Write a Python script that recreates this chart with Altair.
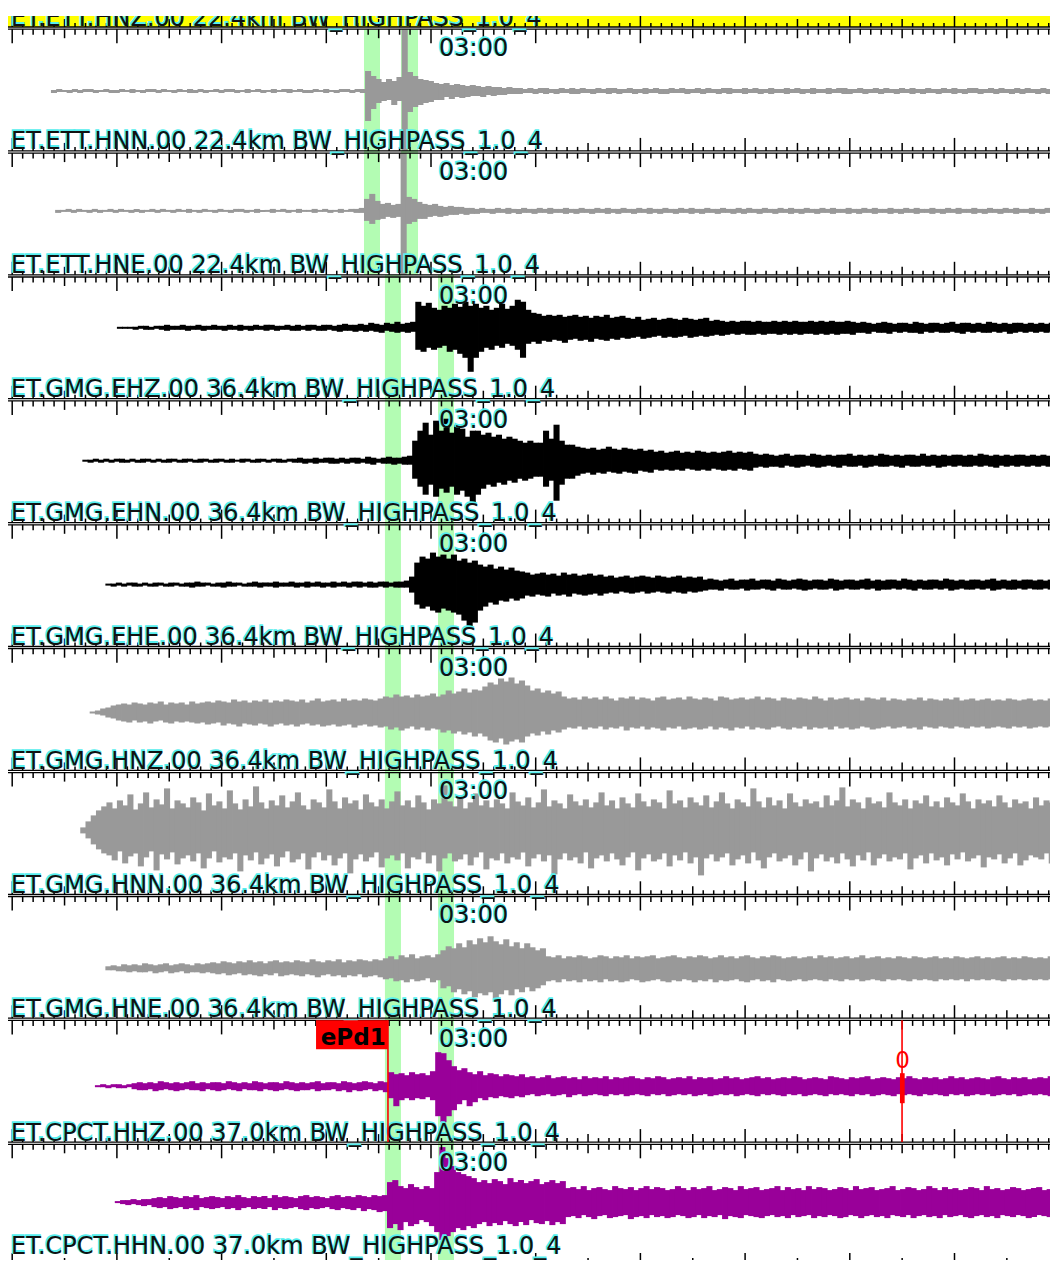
import altair as alt
import pandas as pd

# ---------------- data ----------------
PANEL_LABELS = [
    "ET.ETT.HNZ.00 22.4km BW_HIGHPASS_1.0_4",
    "ET.ETT.HNN.00 22.4km BW_HIGHPASS_1.0_4",
    "ET.ETT.HNE.00 22.4km BW_HIGHPASS_1.0_4",
    "ET.GMG.EHZ.00 36.4km BW_HIGHPASS_1.0_4",
    "ET.GMG.EHN.00 36.4km BW_HIGHPASS_1.0_4",
    "ET.GMG.EHE.00 36.4km BW_HIGHPASS_1.0_4",
    "ET.GMG.HNZ.00 36.4km BW_HIGHPASS_1.0_4",
    "ET.GMG.HNN.00 36.4km BW_HIGHPASS_1.0_4",
    "ET.GMG.HNE.00 36.4km BW_HIGHPASS_1.0_4",
    "ET.CPCT.HHZ.00 37.0km BW_HIGHPASS_1.0_4",
    "ET.CPCT.HHN.00 37.0km BW_HIGHPASS_1.0_4",
]
TIME_LABELS = ["03:00"]
TIME_LABEL_SECONDS = [180]
SAMPLE_STEP = 0.5  # seconds per drawn sample column

TRACE_COLORS = ["#999999", "#999999", "#000000", "#000000", "#000000",
                "#999999", "#999999", "#999999", "#990099", "#990099"]
TRACE_ONSETS = [173.7, 173.6, 178.5, 178.2, 177.9, 174.9, 146.5, 175.4, 175.9, 175.8]

# ET.ETT.HNN
ETT_HNN_PRE_UP = [1,2,1,1,2,1,2,2,1,1,2,1,1,2,1,2,1,1,2,2,
                  1,2,1,1,2,1,2,1,2,1,1,2,1,2,2,1,1,2,1,2,
                  1,1,2,1,2,2,1,2,1,1,2,1,2,1,1,2,2,1,2,2]
ETT_HNN_PRE_DN = [2,1,1,2,1,2,1,1,2,1,1,2,2,1,1,2,1,2,1,1,
                  2,1,1,2,1,1,2,2,1,2,1,1,2,1,1,2,1,2,1,1,
                  2,1,2,1,1,2,1,1,2,2,1,1,2,1,2,1,1,2,1,2]
ETT_HNN_UP = [20,15,12,9,12,10,14,90,19,15,12,11,10,8,7,8,6,7,6,5,
              6,5,4,5,4,4,3,4,3,3,2,3,2,3,3,2,2,3,2,3,
              2,3,2,2,3,2,3,3,2,2,3,2,2,3,2,3,2,2,3,2,
              3,2,2,3,2,3,2,2,3,3,2,2,3,2,3,2,2,3,2,2,
              3,2,3,2,2,3,2,2,3,2,3,3,2,2,3,2,2,3,2,3,
              2,2,3,2,3,2,2,3,2,2,3,2,3,2,2,3,3,2,2,3,
              2,3,2,2,3,2,3,2,2,3,2,2,3,2,3]
ETT_HNN_DN = [30,18,12,10,9,14,10,90,21,16,14,12,11,9,9,6,8,6,7,6,
              5,5,6,4,5,4,4,3,3,3,2,2,3,2,3,2,3,2,2,3,
              3,2,2,3,2,2,3,2,3,2,2,3,2,3,2,2,3,3,2,2,
              2,3,2,2,3,2,2,3,2,3,2,2,3,2,2,3,2,3,2,2,
              3,2,2,3,2,3,2,2,3,2,2,3,3,2,2,3,2,2,3,2,
              2,3,2,2,3,2,3,2,2,3,2,2,3,2,3,2,2,3,2,2,
              3,2,2,3,2,3,2,2,3,2,3,2,2,3,2]

# ET.ETT.HNE
ETT_HNE_PRE_UP = [1,1,2,1,2,1,1,2,1,1,2,1,2,1,1,2,1,1,2,1,
                  2,1,1,2,1,2,1,1,2,1,1,2,1,1,2,2,1,1,2,1,
                  1,2,1,2,1,1,2,1,1,2,1,2,1,1,2,1,2,2,3]
ETT_HNE_PRE_DN = [2,1,1,2,1,1,2,1,2,1,1,2,1,1,2,1,2,1,1,2,
                  1,1,2,1,1,2,1,2,1,1,2,1,1,2,1,1,2,1,2,1,
                  1,2,1,1,2,1,2,1,1,2,1,1,2,1,2,1,1,2,2]
ETT_HNE_UP = [12,17,10,7,8,6,7,90,14,12,9,7,6,7,5,4,5,4,4,3,
              3,2,3,2,2,3,2,3,2,2,3,2,2,3,2,3,2,2,3,2,
              2,3,2,2,3,2,3,2,2,3,2,2,3,2,3,2,2,3,2,2,
              3,2,3,2,2,3,2,2,3,2,2,3,2,3,2,2,3,2,2,3,
              2,3,2,2,3,2,2,3,2,3,2,2,3,2,2,3,2,3,2,2,
              3,2,2,3,2,3,2,2,3,2,2,3,2,3,2,2,3,2,2,3,
              2,2,3,2,3,2,2,3,2,2,3,2,3,2,2]
ETT_HNE_DN = [10,13,9,8,6,7,6,90,13,11,8,8,6,5,6,5,4,4,3,4,
              3,3,2,2,3,2,2,3,2,3,2,2,3,2,2,3,2,2,3,2,
              3,2,2,3,2,2,3,2,3,2,2,3,2,2,3,2,3,2,2,3,
              2,2,3,2,3,2,2,3,2,2,3,2,3,2,2,3,2,2,3,2,
              2,3,2,3,2,2,3,2,2,3,2,2,3,2,3,2,2,3,2,2,
              3,2,3,2,2,3,2,2,3,2,3,2,2,3,2,2,3,2,3,2,
              2,3,2,2,3,2,2,3,2,3,2,2,3,2,2]

# ET.GMG.EHZ
GMG_EHZ_PRE_UP = [1,1,1,1,2,2,1,2,2,3,2,2,3,2,2,3,2,2,3,2,
                  2,3,2,3,2,2,3,2,3,3,2,2,3,2,3,2,3,3,2,3,
                  3,2,3,4,3,3,4,3,5,4,3,5,4,6,4,5,6]
GMG_EHZ_PRE_DN = [1,1,1,2,1,2,2,1,2,3,2,2,2,3,2,2,3,2,2,2,
                  3,2,2,3,2,3,2,2,3,2,3,2,2,3,3,2,3,2,3,3,
                  2,3,4,3,3,4,3,4,3,4,5,3,4,5,4,5,4]
GMG_EHZ_UP = [26,22,25,20,18,22,20,24,21,26,22,24,20,22,18,20,24,19,22,28,
              26,18,15,14,12,13,12,13,11,12,13,11,12,10,12,11,13,10,11,12,
              10,9,11,8,9,10,8,9,10,9,8,10,9,8,9,10,7,8,7,6,
              7,6,7,7,6,7,6,6,7,6,7,6,7,6,6,7,6,7,6,7,
              6,6,7,6,5,6,5,4,5,6,5,4,5,5,4,6,5,4,5,5,
              4,5,6,4,5,5,4,5,4,6,5,4,5,4,5,5,4,5,4,5,
              4,5,5,4,5,4]
GMG_EHZ_DN = [22,24,20,22,20,18,24,22,26,30,44,30,24,20,22,18,20,16,18,22,
              30,16,14,16,13,14,12,13,15,12,11,13,12,14,11,12,13,11,12,10,
              11,10,9,11,10,9,8,10,9,10,9,8,10,9,8,9,8,7,8,7,
              6,7,6,7,7,6,7,6,6,7,6,7,6,7,6,6,7,6,7,6,
              7,6,6,7,5,5,6,4,5,5,6,4,5,4,5,5,6,4,5,4,
              5,5,4,5,6,4,5,4,5,5,4,5,4,6,5,4,5,4,5,4,
              5,4,5,5,4,5]

# ET.GMG.EHN
GMG_EHN_PRE_UP = [1,1,2,1,2,1,2,2,1,2,1,2,2,1,2,1,2,2,1,2,
                  2,1,2,2,1,2,2,1,2,1,2,2,1,2,2,1,2,2,1,2,
                  2,3,2,2,3,2,3,3,2,3,2,3,3,2,4,3,2,3,4,3,
                  3,4,5]
GMG_EHN_PRE_DN = [1,2,1,2,1,2,1,2,2,1,2,2,1,2,1,2,2,1,2,2,
                  1,2,2,1,2,2,1,2,2,1,2,1,2,2,1,2,1,2,2,1,
                  2,2,3,2,3,2,2,3,3,2,3,2,3,2,3,4,2,3,3,4,
                  3,4,4]
GMG_EHN_UP = [20,30,38,26,40,30,42,28,36,32,24,30,30,26,28,24,26,22,24,22,
              20,18,20,18,18,30,22,36,20,16,16,14,13,12,13,11,12,14,12,11,
              13,12,11,12,10,11,9,10,8,9,10,8,9,8,10,9,8,9,8,9,
              10,8,9,8,9,7,6,7,6,5,6,7,5,6,6,5,7,6,5,6,
              5,6,6,7,5,6,5,6,5,7,6,5,6,5,6,6,5,7,5,6,
              5,6,5,6,6,5,6,5,7,6,5,6,5,6,5,6,6,5,6,5,
              6,5,6,5,6,5]
GMG_EHN_DN = [18,26,34,24,36,28,32,26,34,30,36,44,34,28,24,26,22,24,20,22,
              18,20,18,16,16,26,20,40,24,18,18,15,13,12,14,12,13,11,12,13,
              11,12,13,10,11,12,9,10,9,10,9,10,8,9,10,9,10,8,9,10,
              9,10,8,9,10,7,6,7,6,6,7,5,6,7,6,5,6,7,6,5,
              6,7,5,6,6,5,7,6,5,6,6,5,6,7,5,6,6,5,6,5,
              7,6,5,6,5,6,6,5,6,5,6,7,5,6,5,6,5,6,5,6,
              5,6,6,5,6,5]

# ET.GMG.EHE
GMG_EHE_PRE_UP = [1,1,2,1,2,2,1,2,1,2,2,1,2,2,1,2,2,3,2,2,
                  1,2,2,3,2,2,1,2,3,2,2,2,3,2,2,3,2,2,3,2,
                  3,2,2,3,2,3,2,3,3,2,3,2,3,3,2,3,3,4]
GMG_EHE_PRE_DN = [1,2,1,2,1,2,2,1,2,2,1,2,2,1,2,2,3,2,2,1,
                  2,2,3,2,2,1,2,2,2,3,2,2,3,2,2,2,3,2,3,2,
                  2,3,2,3,2,2,3,2,3,2,3,3,2,3,2,3,3,3]
GMG_EHE_UP = [8,22,28,26,32,28,30,26,30,24,26,22,24,20,18,20,16,18,15,17,
              14,13,12,10,11,12,10,11,9,12,10,11,9,10,11,9,10,8,9,7,
              8,9,7,8,9,8,7,9,8,7,8,9,7,8,7,8,5,6,5,4,
              5,6,4,5,5,6,4,5,5,4,6,5,4,5,6,5,4,5,5,4,
              6,5,4,5,5,4,5,6,4,5,4,5,5,4,6,5,4,5,4,5,
              5,4,6,5,4,5,4,5,5,4,5,6,4,5,4,5,4,5,5,4,
              5,4,5,5,4,5,4]
GMG_EHE_DN = [8,20,24,22,26,28,24,26,28,30,36,44,38,26,22,18,20,16,17,14,
              16,14,11,12,10,11,12,9,11,10,12,9,10,11,10,9,11,9,8,9,
              7,8,9,8,7,9,8,7,8,9,7,8,9,7,8,7,6,5,5,6,
              4,5,5,4,6,5,5,4,5,6,4,5,5,4,5,6,5,4,5,5,
              4,6,5,4,5,5,4,5,4,6,5,5,4,5,4,5,6,4,5,5,
              4,5,4,6,5,4,5,5,4,5,4,6,5,4,5,5,4,5,4,5,
              5,4,5,4,5,5,4]

# ET.GMG.HNZ
GMG_HNZ_PRE_UP = [1,2,4,5,7,8,9,8,10,9,8,10,9,11,8,10,9,10,8,11,
                  9,10,11,10,12,11,10,13,11,12,10,12,11,13,10,12,11,13,12,11,
                  13,10,12,14,11,12,13,11,14,12,13,12,14,13,12]
GMG_HNZ_PRE_DN = [1,2,3,5,6,8,9,10,8,10,9,11,9,8,10,11,9,10,9,10,
                  11,10,12,11,10,13,11,12,14,11,12,13,11,12,14,12,11,13,12,14,
                  12,11,13,12,14,13,12,14,13,12,15,13,12,14,13]
GMG_HNZ_UP = [14,16,15,18,16,17,15,18,16,17,19,16,18,22,19,21,24,20,23,22,
              26,30,28,34,31,35,29,32,27,22,24,20,22,19,21,16,14,15,13,16,
              14,15,13,16,14,12,15,14,16,13,15,14,12,15,16,13,14,15,13,16,
              14,13,15,14,12,16,15,13,14,15,13,14,16,13,15,14,12,15,14,13,
              15,14,13,16,14,12,15,13,14,15,13,14,12,15,14,13,15,12,14,13,
              12,14,13,15,12,14,13,12,14,13,15,12,13,14,12,13,14,12,13,12,
              14,13,12,13,14,12,13,12,14,12,13,12]
GMG_HNZ_DN = [15,14,17,15,18,16,14,17,15,18,16,17,20,18,21,19,22,20,24,21,
              24,28,30,26,32,29,27,30,24,21,23,19,22,18,20,17,15,16,14,17,
              15,16,14,17,15,16,14,18,15,16,14,17,15,16,18,15,16,14,17,16,
              15,17,16,14,17,15,16,18,15,16,14,17,15,16,17,15,14,16,17,15,
              16,14,17,15,16,15,17,14,16,15,17,16,14,15,17,16,15,14,16,15,
              14,16,15,17,14,15,16,14,15,16,14,15,16,14,15,14,16,15,14,15,
              16,14,15,14,16,15,14,15,14,16,15,14]

# ET.GMG.HNN (no quiet lead-in)
GMG_HNN_PRE_UP = []
GMG_HNN_PRE_DN = []
GMG_HNN_UP = [3,9,15,20,24,28,22,30,25,36,21,27,38,23,31,26,42,22,30,27,
              23,33,28,20,37,25,29,22,40,27,21,31,24,44,28,22,30,25,35,23,
              29,38,25,21,31,28,23,41,29,22,33,27,30,21,36,28,24,31,22,29,
              39,25,30,23,35,28,21,31,27,45,29,24,32,22,28,37,25,30,23,31,
              27,22,38,29,25,33,23,28,41,24,30,27,22,36,29,25,31,23,28,38,
              25,30,22,33,27,23,37,29,24,31,28,22,40,27,30,23,33,28,25,35,
              23,29,38,27,22,31,28,24,42,29,23,33,25,30,22,37,28,24,31,27,
              29,23,35,25,30,43,24,31,28,22,33,27,29,23,38,28,25,31,22,30,
              27,35,24,29,23,33,28,25,37,29,22,31,27,30,24,35,28,23,31,27,
              29,22,33,25,30,28,23,35,27]
GMG_HNN_DN = [3,8,14,19,23,25,30,21,33,26,23,36,27,21,40,24,29,22,34,28,
              25,31,23,38,28,21,32,27,29,23,41,25,30,22,34,28,24,36,27,21,
              32,29,23,39,27,22,30,25,35,28,23,43,29,24,31,27,22,37,28,25,
              30,23,38,27,29,22,33,25,41,28,23,31,29,24,35,27,22,39,28,30,
              23,33,27,29,22,36,28,24,31,25,44,29,23,30,27,33,22,38,28,25,
              31,23,29,35,27,22,40,28,24,31,29,23,36,25,30,22,33,27,45,28,
              24,31,27,23,35,29,25,33,22,30,38,27,23,31,28,25,35,29,22,41,
              28,24,31,27,33,23,29,36,25,30,22,35,28,24,31,27,29,23,39,28,
              25,33,23,30,27,35,24,29,22,31,28,25,37,27,29,24,33,28,23,35,
              30,25,27,29,23,33,28,25,35,24]

# ET.GMG.HNE
GMG_HNE_PRE_UP = [2,3,2,4,3,4,3,5,4,3,4,5,3,4,5,4,3,5,4,5,
                  6,5,7,6,5,7,6,8,6,7,5,7,8,6,7,6,8,7,6,9,
                  7,6,8,7,9,6,8,7,9,8,7,9,8]
GMG_HNE_PRE_DN = [2,2,3,3,4,3,4,4,3,5,4,3,5,4,3,5,4,4,5,4,
                  5,6,5,7,6,5,7,6,7,8,6,7,5,8,7,6,7,8,6,7,
                  9,7,6,8,7,9,7,8,6,9,8,7,9]
GMG_HNE_UP = [10,12,9,13,11,14,10,12,13,11,14,18,22,20,25,21,28,24,30,26,
              32,27,24,29,22,26,20,25,21,18,20,12,11,13,10,12,11,13,12,10,
              11,13,12,10,12,11,13,10,12,11,12,13,10,11,12,13,11,10,12,11,
              13,12,10,11,13,11,12,10,12,13,11,10,12,11,13,12,10,11,12,10,
              11,12,10,13,11,12,10,11,12,10,11,13,10,11,12,10,11,10,12,11,
              10,12,11,10,11,12,10,11,10,12,11,10,11,12,10,11,10,11,12,10,
              11,10,12,11,10,11,10,12,11,10,11]
GMG_HNE_DN = [11,10,13,12,14,11,13,12,10,14,12,20,18,24,21,26,23,29,25,27,
              24,30,26,22,27,21,24,19,23,20,17,13,12,14,11,13,12,14,11,13,
              12,14,11,13,12,14,13,11,12,14,13,12,11,13,14,12,13,11,12,14,
              12,13,11,14,12,13,12,11,13,14,12,11,13,12,14,11,12,13,12,11,
              13,12,11,12,13,11,12,13,11,12,11,13,12,11,12,13,11,12,11,12,
              13,11,12,11,12,13,11,12,11,12,11,13,11,12,11,12,11,12,13,11,
              12,11,12,11,12,11,12,11,12,11,12]

# ET.CPCT.HHZ
CPCT_HHZ_PRE_UP = [1,2,1,2,2,1,2,3,4,3,4,3,5,4,3,4,3,4,5,3,
                   4,3,4,4,3,5,4,3,4,3,5,4,3,4,4,3,5,4,3,4,
                   3,4,5,3,4,4,3,5,4,3,4,5,4,3,5,4]
CPCT_HHZ_PRE_DN = [1,1,2,1,2,2,1,3,4,4,3,5,4,3,4,5,4,3,4,4,
                   5,3,4,5,4,3,4,5,3,4,4,5,3,4,5,4,3,4,5,4,
                   4,3,5,4,4,3,5,4,6,4,5,4,3,5,4,6]
CPCT_HHZ_UP = [14,12,13,11,14,12,13,11,15,34,33,26,20,16,18,14,12,15,11,13,
               12,10,12,11,10,12,9,10,8,9,11,8,9,10,8,9,7,10,8,9,
               8,10,7,9,8,9,10,8,7,9,8,10,9,7,8,9,8,10,7,9,
               8,9,7,8,10,8,9,7,8,9,10,8,9,7,8,9,8,10,9,7,
               8,9,8,7,10,9,8,7,9,8,9,10,7,8,9,8,7,9,8,10,
               8,7,9,8,9,7,8,10,8,9,7,8,9,8,7,9,10,8,7,9,
               8,9,7,8,9,8,10,7,9,8]
CPCT_HHZ_DN = [12,20,14,12,14,12,13,11,14,30,36,30,24,18,14,20,16,12,14,11,
               12,10,11,12,10,11,9,8,10,9,8,10,9,8,11,9,8,10,9,8,
               9,10,8,9,8,10,9,8,9,10,8,9,8,10,9,8,9,8,10,9,
               8,10,9,8,9,8,10,9,8,9,10,8,9,8,9,10,8,9,8,10,
               9,8,9,10,8,9,8,9,10,8,9,8,10,9,8,9,10,8,9,8,
               9,10,8,9,8,9,10,8,9,8,10,9,8,9,8,10,9,8,9,8,
               10,9,8,9,8,9,10,8,9,8]

# ET.CPCT.HHN
CPCT_HHN_PRE_UP = [1,2,2,3,2,3,3,4,5,4,6,5,4,6,5,7,4,5,6,5,
                   4,6,5,7,5,4,6,5,6,4,7,5,6,5,4,6,7,5,6,5,
                   4,6,7,5,6,5,7,6,5,7,6,7]
CPCT_HHN_PRE_DN = [1,2,3,2,3,4,3,5,6,5,7,6,5,7,6,8,5,6,7,6,
                   5,7,6,8,6,5,7,6,7,5,8,6,7,6,5,7,8,6,7,6,
                   5,7,8,6,7,8,6,9,7,8,10,9]
CPCT_HHN_UP = [20,22,16,14,18,15,13,16,14,30,55,44,36,30,28,26,24,20,22,19,
               23,21,18,24,20,22,19,21,23,18,20,22,19,21,14,15,13,16,12,14,
               15,13,12,16,14,13,15,12,14,16,13,15,14,12,13,16,14,12,15,13,
               14,16,12,13,15,14,12,16,13,14,15,12,13,14,16,12,15,13,14,12,
               16,13,15,14,12,13,15,14,12,16,13,14,15,12,13,14,16,12,13,15,
               14,12,13,16,14,12,15,13,14,12,13,15,14,12,16,13,14,12,13,15,
               14,12,13,14,15,12,13,14,12,13]
CPCT_HHN_DN = [26,22,28,20,24,22,18,20,24,30,38,34,30,26,28,24,26,22,20,24,
               21,23,19,22,24,20,23,18,21,22,19,23,20,22,15,14,16,13,15,17,
               14,13,16,15,14,13,17,15,14,16,13,15,14,16,15,13,14,16,15,13,
               16,14,15,13,17,14,15,16,13,14,15,16,14,13,15,14,16,13,15,14,
               13,16,14,15,13,14,16,15,13,14,16,14,13,15,14,16,13,14,15,13,
               16,14,13,15,14,16,13,15,14,13,15,16,14,13,15,14,16,13,14,15,
               13,14,16,15,13,14,15,13,14,16]

# phase windows (seconds) and picks
ETT_WINDOWS = [(173.6, 175.13), (177.13, 178.76)]
GMG_CPCT_WINDOWS = [(175.6, 177.13), (180.67, 182.2)]
PICK_NAME = "ePd1"
PICK_TIME = 175.89
PICK_BOX_START = 169.02
MARK_TIME = 224.99
MARK_TEXT = "0"
BOTTOM_BAR = (173.79, 180.57)

# ---------------- layout ----------------
W, H = 1042, 1252
PX_PER_S = 10.47
T_LEFT = 180 + (8 - 431) / PX_PER_S
T_RIGHT = 180 + (8 + W - 431) / PX_PER_S
Y_TOP, Y_BOT = 8, 8 + H
B0, STEP = 27.0, 123.9
BOUNDS = [B0 + STEP * i for i in range(11)]
CENTER_OFF = [64, 60, 53, 62, 62, 66, 60, 74, 68, 60]

TRACES = [
    (ETT_HNN_PRE_UP, ETT_HNN_PRE_DN, ETT_HNN_UP, ETT_HNN_DN),
    (ETT_HNE_PRE_UP, ETT_HNE_PRE_DN, ETT_HNE_UP, ETT_HNE_DN),
    (GMG_EHZ_PRE_UP, GMG_EHZ_PRE_DN, GMG_EHZ_UP, GMG_EHZ_DN),
    (GMG_EHN_PRE_UP, GMG_EHN_PRE_DN, GMG_EHN_UP, GMG_EHN_DN),
    (GMG_EHE_PRE_UP, GMG_EHE_PRE_DN, GMG_EHE_UP, GMG_EHE_DN),
    (GMG_HNZ_PRE_UP, GMG_HNZ_PRE_DN, GMG_HNZ_UP, GMG_HNZ_DN),
    (GMG_HNN_PRE_UP, GMG_HNN_PRE_DN, GMG_HNN_UP, GMG_HNN_DN),
    (GMG_HNE_PRE_UP, GMG_HNE_PRE_DN, GMG_HNE_UP, GMG_HNE_DN),
    (CPCT_HHZ_PRE_UP, CPCT_HHZ_PRE_DN, CPCT_HHZ_UP, CPCT_HHZ_DN),
    (CPCT_HHN_PRE_UP, CPCT_HHN_PRE_DN, CPCT_HHN_UP, CPCT_HHN_DN),
]

rows = []
for i, (pu, pd_, up, dn) in enumerate(TRACES):
    top = BOUNDS[i] + 2.5
    bottom = BOUNDS[i + 1]
    center = BOUNDS[i] + CENTER_OFF[i]
    onset = TRACE_ONSETS[i]
    color = TRACE_COLORS[i]
    n = min(len(pu), len(pd_))
    samples = []
    for j in range(n):
        samples.append((onset - (n - j) * SAMPLE_STEP, pu[len(pu) - n + j], pd_[len(pd_) - n + j]))
    m = min(len(up), len(dn))
    for j in range(m):
        samples.append((onset + j * SAMPLE_STEP, up[j], dn[j]))
    for t, u, d in samples:
        if t > T_RIGHT:
            continue
        rows.append({"t": t, "t2": t + SAMPLE_STEP + 0.08,
                     "y1": max(center - u, top), "y2": min(center + d, bottom), "c": color})
trace_df = pd.DataFrame(rows)

xs = alt.Scale(domain=[T_LEFT, T_RIGHT], nice=False, zero=False)
ys = alt.Scale(domain=[Y_TOP, Y_BOT], reverse=True, nice=False, zero=False)


def X(f):
    return alt.X(f + ":Q", scale=xs, axis=None)


def Y(f):
    return alt.Y(f + ":Q", scale=ys, axis=None)


layers = []

# yellow (selected panel) strip
layers.append(alt.Chart(pd.DataFrame([{"y1": 16, "y2": B0}])).mark_rect(color="#ffff00").encode(
    x=alt.value(0), x2=alt.value(W), y=Y("y1"), y2="y2"))

# phase windows
win_rows = []
for a, b in ETT_WINDOWS:
    win_rows.append({"t": a, "t2": b, "y1": B0 + 2.5, "y2": BOUNDS[2]})
for a, b in GMG_CPCT_WINDOWS:
    win_rows.append({"t": a, "t2": b, "y1": BOUNDS[2], "y2": Y_BOT})
layers.append(alt.Chart(pd.DataFrame(win_rows)).mark_rect(color="#b3fcb3", clip=True).encode(
    x=X("t"), x2="t2", y=Y("y1"), y2="y2"))

# traces
layers.append(alt.Chart(trace_df).mark_rect(clip=True).encode(
    x=X("t"), x2="t2", y=Y("y1"), y2="y2", color=alt.Color("c:N", scale=None)))

# red bar at bottom
layers.append(alt.Chart(pd.DataFrame([{"t": BOTTOM_BAR[0], "t2": BOTTOM_BAR[1],
                                       "y1": BOUNDS[10] + 3, "y2": BOUNDS[10] + 7}])).mark_rect(color="#ff0000", clip=True).encode(
    x=X("t"), x2="t2", y=Y("y1"), y2="y2"))

# boundary double lines
hl = []
for b in BOUNDS:
    hl.append({"y": b})
    hl.append({"y": b + 2.2})
layers.append(alt.Chart(pd.DataFrame(hl)).mark_rule(color="black", strokeWidth=1.3, clip=True).encode(
    y=Y("y"), x=alt.value(0), x2=alt.value(W)))

# ticks
tk = []
for b in BOUNDS:
    for s in range(140, 240):
        if s % 10 == 0:
            lu, ld = 13, 14
        elif s % 5 == 0:
            lu, ld = 8, 9
        else:
            lu, ld = 4, 5.5
        tk.append({"t": s, "y1": b - lu, "y2": b})
        tk.append({"t": s, "y1": b + 2.2, "y2": b + 2.2 + ld})
layers.append(alt.Chart(pd.DataFrame(tk)).mark_rule(color="black", strokeWidth=1.5, clip=True).encode(
    x=X("t"), y=Y("y1"), y2="y2"))

# panel labels (the last one is nudged up so that it stays inside the page)
lab = pd.DataFrame([{"t": 180 + (11 - 431) / PX_PER_S, "y": min(BOUNDS[i] - 1.5, Y_BOT - 6),
                     "label": PANEL_LABELS[i]} for i in range(11)])
tl = []
for i in range(10):
    for s, txt in zip(TIME_LABEL_SECONDS, TIME_LABELS):
        tl.append({"t": s + 8 / PX_PER_S, "y": BOUNDS[i] + 29, "label": txt})
tl = pd.DataFrame(tl)
for df in (lab, tl):
    layers.append(alt.Chart(df).mark_text(align="left", baseline="alphabetic", font="DejaVu Sans",
                                          fontSize=24, color="#55eeee", stroke="#55eeee",
                                          strokeWidth=1.6, dx=-1, dy=-1).encode(
        x=X("t"), y=Y("y"), text="label:N"))
    layers.append(alt.Chart(df).mark_text(align="left", baseline="alphabetic", font="DejaVu Sans",
                                          fontSize=24, color="#111111").encode(
        x=X("t"), y=Y("y"), text="label:N"))

# pick ePd1
layers.append(alt.Chart(pd.DataFrame([{"t": PICK_BOX_START, "t2": PICK_TIME,
                                       "y1": BOUNDS[8] + 2, "y2": BOUNDS[8] + 31}])).mark_rect(color="#ff0000").encode(
    x=X("t"), x2="t2", y=Y("y1"), y2="y2"))
layers.append(alt.Chart(pd.DataFrame([{"t": PICK_TIME, "y1": BOUNDS[8] + 2, "y2": BOUNDS[9]},
                                      {"t": MARK_TIME, "y1": BOUNDS[8] + 2, "y2": BOUNDS[9]}])).mark_rule(
    color="#ff0000", strokeWidth=1.6).encode(x=X("t"), y=Y("y1"), y2="y2"))
layers.append(alt.Chart(pd.DataFrame([{"t": PICK_BOX_START + 0.45, "y": BOUNDS[8] + 27, "label": PICK_NAME}])).mark_text(
    align="left", baseline="alphabetic", font="DejaVu Sans", fontSize=23, fontWeight="bold", color="black").encode(
    x=X("t"), y=Y("y"), text="label:N"))
layers.append(alt.Chart(pd.DataFrame([{"t": MARK_TIME - 0.2, "t2": MARK_TIME + 0.25,
                                       "y1": BOUNDS[8] + 55, "y2": BOUNDS[8] + 85}])).mark_rect(color="#ff0000").encode(
    x=X("t"), x2="t2", y=Y("y1"), y2="y2"))
layers.append(alt.Chart(pd.DataFrame([{"t": MARK_TIME + 0.05, "y": BOUNDS[8] + 50, "label": MARK_TEXT}])).mark_text(
    align="center", baseline="alphabetic", font="DejaVu Sans", fontSize=23, color="#ff0000").encode(
    x=X("t"), y=Y("y"), text="label:N"))

# white strip above the clipped top panel
layers.append(alt.Chart(pd.DataFrame([{"y1": Y_TOP, "y2": 16}])).mark_rect(color="white").encode(
    x=alt.value(0), x2=alt.value(W), y=Y("y1"), y2="y2"))

chart = alt.layer(*layers).properties(
    width=W, height=H, padding=0, autosize="none", background="white"
).configure_view(strokeWidth=0)

chart.save("out.html", embed_options={"renderer": "svg", "actions": False})
